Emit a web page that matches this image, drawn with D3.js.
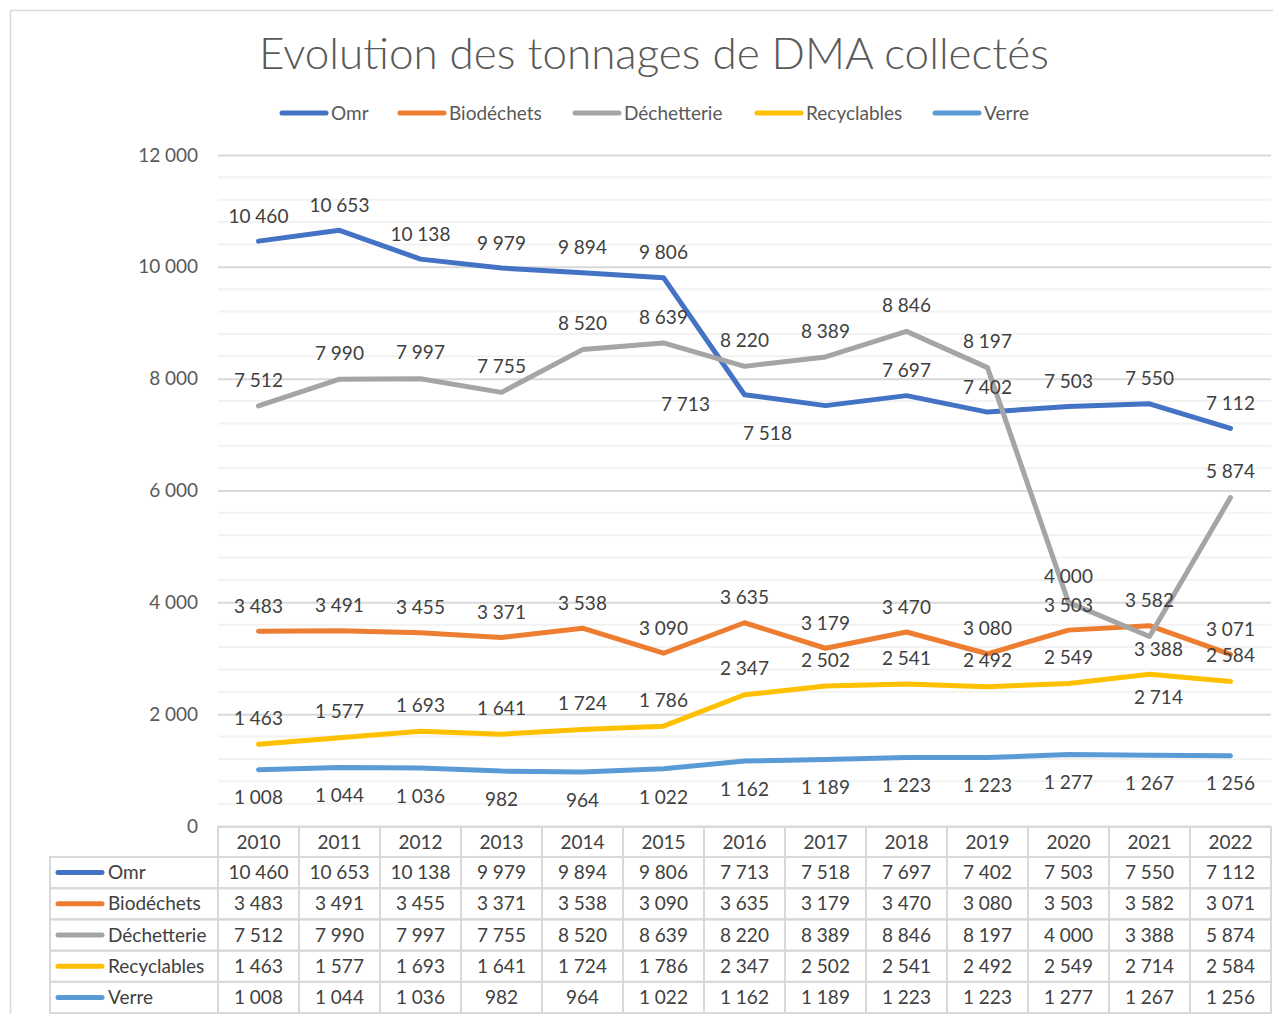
<!DOCTYPE html>
<html><head><meta charset="utf-8">
<script src="https://cdn.jsdelivr.net/npm/d3@7"></script>
<style>
body{margin:0;background:#fff;}
svg{display:block;font-family:Lato,"Open Sans",sans-serif;}
</style></head>
<body><svg id="c" width="1273" height="1014"></svg>
<script>
const years = [2010,2011,2012,2013,2014,2015,2016,2017,2018,2019,2020,2021,2022];
const seriesNames = ["Omr","Biodéchets","Déchetterie","Recyclables","Verre"];
const omr = [10460,10653,10138,9979,9894,9806,7713,7518,7697,7402,7503,7550,7112];
const biodechets = [3483,3491,3455,3371,3538,3090,3635,3179,3470,3080,3503,3582,3071];
const dechetterie = [7512,7990,7997,7755,8520,8639,8220,8389,8846,8197,4000,3388,5874];
const recyclables = [1463,1577,1693,1641,1724,1786,2347,2502,2541,2492,2549,2714,2584];
const verre = [1008,1044,1036,982,964,1022,1162,1189,1223,1223,1277,1267,1256];
const yTicks = [0,2000,4000,6000,8000,10000,12000];
const title = "Evolution des tonnages de DMA collectés";

const seriesValues = [omr,biodechets,dechetterie,recyclables,verre];
const colors = ["#4472C4","#ED7D31","#A5A5A5","#FFC000","#5B9BD5"];
// label placement (layout only)
const labelDy = [-25,-25,-26,-26,28];
const labelOverrides = {"0-6":{dx:-59,dy:10},"0-7":{dx:-58,dy:28},"2-11":{dx:9,dy:13},"3-11":{dx:9,dy:23}};

const loc = d3.formatLocale({decimal:",",thousands:"\u202F",grouping:[3],currency:["","€"]});
const fmt = loc.format(",d");
const FS = 19;

const svg = d3.select("#c");
svg.append("rect").attr("x",10.5).attr("y",10.5).attr("width",1300).attr("height",1020)
  .attr("fill","#fff").attr("stroke","#d9d9d9").attr("stroke-width",1.5);

const pLeft=218, pRight=1271, pTop=155, pBottom=826;
const x = d3.scaleBand().domain(years).range([pLeft,pRight]);
const y = d3.scaleLinear().domain([0,12000]).range([pBottom,pTop]);

svg.append("text").attr("x",654).attr("y",69).attr("text-anchor","middle")
  .attr("font-size",44).attr("font-weight",300).attr("fill","#595959").text(title);

// legend
const legendX = [280,398,573,755,933];
const lg = svg.append("g");
seriesNames.forEach((n,i)=>{
  lg.append("line").attr("x1",legendX[i]+2).attr("x2",legendX[i]+46).attr("y1",113).attr("y2",113)
    .attr("stroke",colors[i]).attr("stroke-width",5).attr("stroke-linecap","round");
  lg.append("text").attr("x",legendX[i]+51).attr("y",113).attr("dy","0.35em").attr("font-size",FS).attr("fill","#595959").text(n);
});

// minor grid
const minor = d3.range(0,12001,400).filter(v=>v%2000!==0);
svg.append("g").selectAll("line").data(minor).join("line")
  .attr("x1",pLeft).attr("x2",pRight).attr("y1",d=>y(d)).attr("y2",d=>y(d))
  .attr("stroke","#f2f2f2").attr("stroke-width",2);
// major grid via axis
const yAxis = d3.axisLeft(y).tickValues(yTicks).tickFormat(fmt).tickSize(-(pRight-pLeft)).tickPadding(20);
const ga = svg.append("g").attr("transform",`translate(${pLeft},0)`).call(yAxis);
ga.select(".domain").remove();
ga.selectAll(".tick line").attr("stroke","#d9d9d9").attr("stroke-width",2);
ga.selectAll(".tick text").attr("font-size",FS).attr("fill","#595959").attr("font-family","Lato,sans-serif");

// lines
const line = d3.line().x((d,i)=>x(years[i])+x.bandwidth()/2).y(d=>y(d));
seriesValues.forEach((vals,si)=>{
  svg.append("path").datum(vals).attr("d",line).attr("fill","none")
    .attr("stroke",colors[si]).attr("stroke-width",5).attr("stroke-linecap","round").attr("stroke-linejoin","round");
});
// labels
seriesValues.forEach((vals,si)=>{
  svg.append("g").selectAll("text").data(vals).join("text")
    .attr("x",(d,i)=>x(years[i])+x.bandwidth()/2+((labelOverrides[si+"-"+i]||{}).dx||0))
    .attr("y",(d,i)=>y(d)+((labelOverrides[si+"-"+i]||{}).dy ?? labelDy[si]))
    .attr("dy","0.35em").attr("text-anchor","middle").attr("font-size",FS).attr("fill","#404040")
    .text(d=>fmt(d));
});

// data table
const rowTop=827, headerH=30, rowH=31.2, tableLeft=50;
const tg = svg.append("g");
const gridC="#d9d9d9";
years.forEach((yr,i)=>{
  tg.append("rect").attr("x",x(yr)).attr("y",rowTop).attr("width",x.bandwidth()).attr("height",headerH)
    .attr("fill","none").attr("stroke",gridC).attr("stroke-width",2);
  tg.append("text").attr("x",x(yr)+x.bandwidth()/2).attr("y",rowTop+headerH/2).attr("dy","0.35em")
    .attr("text-anchor","middle").attr("font-size",FS).attr("fill","#404040").text(yr);
});
seriesNames.forEach((n,si)=>{
  const ry = rowTop+headerH+si*rowH;
  tg.append("rect").attr("x",tableLeft).attr("y",ry).attr("width",pLeft-tableLeft).attr("height",rowH)
    .attr("fill","none").attr("stroke",gridC).attr("stroke-width",2);
  tg.append("line").attr("x1",58).attr("x2",102).attr("y1",ry+rowH/2).attr("y2",ry+rowH/2)
    .attr("stroke",colors[si]).attr("stroke-width",5).attr("stroke-linecap","round");
  tg.append("text").attr("x",108).attr("y",ry+rowH/2).attr("dy","0.35em").attr("font-size",FS).attr("fill","#404040").text(n);
  seriesValues[si].forEach((v,i)=>{
    tg.append("rect").attr("x",x(years[i])).attr("y",ry).attr("width",x.bandwidth()).attr("height",rowH)
      .attr("fill","none").attr("stroke",gridC).attr("stroke-width",2);
    tg.append("text").attr("x",x(years[i])+x.bandwidth()/2).attr("y",ry+rowH/2).attr("dy","0.35em")
      .attr("text-anchor","middle").attr("font-size",FS).attr("fill","#404040").text(fmt(v));
  });
});
</script></body></html>
